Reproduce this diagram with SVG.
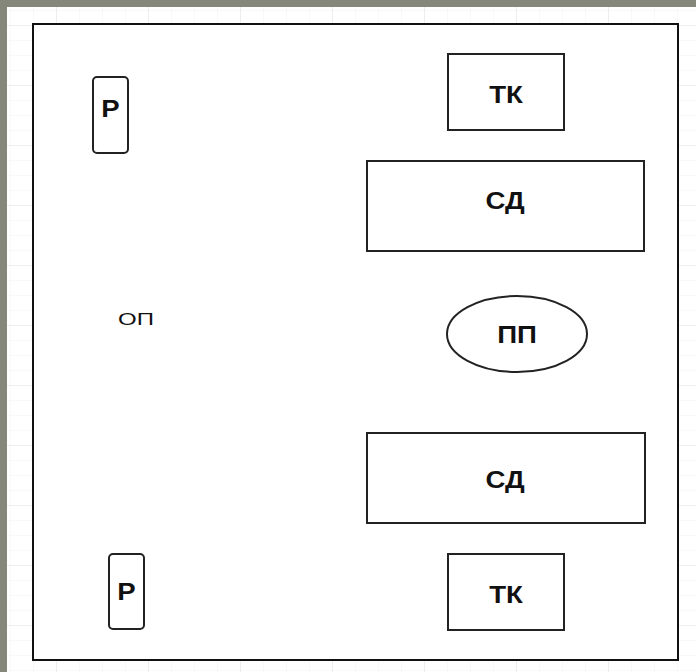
<svg xmlns="http://www.w3.org/2000/svg" width="696" height="672" viewBox="0 0 696 672">
<defs>
<pattern id="minor" x="10" y="25" width="23" height="15" patternUnits="userSpaceOnUse">
<path d="M0 0V15M0 0H23" stroke="#f3f3f3" stroke-width="1" fill="none"/>
</pattern>
<pattern id="major" x="56" y="25" width="92" height="60" patternUnits="userSpaceOnUse">
<path d="M0 0V60M0 0H92" stroke="#e4e4e4" stroke-width="1.2" fill="none"/>
</pattern>
</defs>
<style>
.box{fill:#fff;stroke:#222;stroke-width:2}
.lbl{font-family:"Liberation Sans",Arial,sans-serif;font-weight:bold;font-size:24px;fill:#111;text-anchor:middle}
.sm{font-family:"Liberation Sans",Arial,sans-serif;font-size:16px;fill:#111;text-anchor:middle}
</style>
<rect width="696" height="672" fill="#85877a"/>
<rect x="7" y="7" width="689" height="665" fill="#fff"/>
<rect x="7" y="7" width="689" height="665" fill="url(#minor)"/>
<rect x="7" y="7" width="689" height="665" fill="url(#major)"/>
<g id="frame"><rect x="33" y="24" width="645" height="636" fill="#fff" stroke="#111" stroke-width="2"/></g>
<g id="p-top"><rect class="box" x="93" y="77" width="35" height="76" rx="4"/><text class="lbl" transform="translate(110.5,117) scale(1.15,1)">Р</text></g>
<g id="op"><text class="sm" transform="translate(136,325) scale(1.5,1)">ОП</text></g>
<g id="p-bottom"><rect class="box" x="109" y="554" width="35" height="75" rx="4"/><text class="lbl" transform="translate(126.5,600) scale(1.15,1)">Р</text></g>
<g id="tk-top"><rect class="box" x="448" y="54" width="116" height="76"/><text class="lbl" transform="translate(506,103) scale(1.15,1)">ТК</text></g>
<g id="sd-top"><rect class="box" x="367" y="161" width="277" height="90"/><text class="lbl" transform="translate(505,209) scale(1.15,1)">СД</text></g>
<g id="pp"><ellipse class="box" cx="517" cy="334" rx="70" ry="38"/><text class="lbl" transform="translate(517,343) scale(1.15,1)">ПП</text></g>
<g id="sd-bottom"><rect class="box" x="367" y="433" width="278" height="90"/><text class="lbl" transform="translate(505,488) scale(1.15,1)">СД</text></g>
<g id="tk-bottom"><rect class="box" x="448" y="554" width="116" height="76"/><text class="lbl" transform="translate(506,603) scale(1.15,1)">ТК</text></g>
<g id="connectors"/>
</svg>
